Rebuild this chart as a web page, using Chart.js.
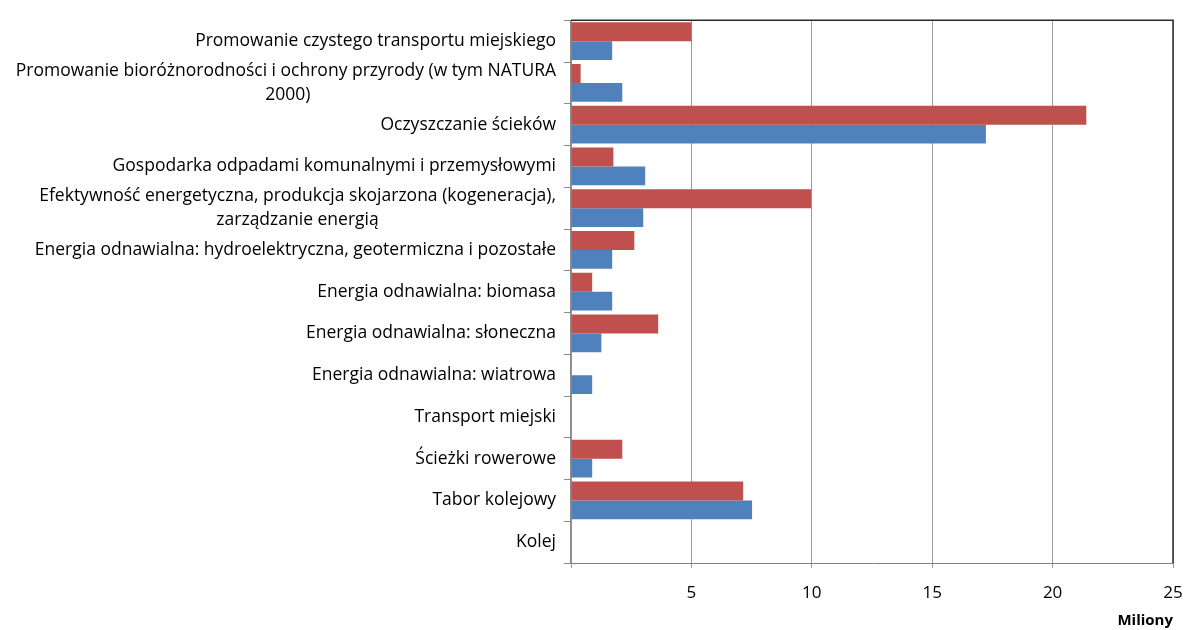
<!DOCTYPE html>
<html lang="pl">
<head>
<meta charset="utf-8">
<title>Wykres</title>
<script src="https://cdn.jsdelivr.net/npm/chart.js@4/dist/chart.umd.min.js"></script>
<style>
  html, body { margin: 0; padding: 0; background: #fff; }
  #wykres { display: block; }
</style>
</head>
<body>
<canvas id="wykres" width="1185" height="630"></canvas>
<script>
const kategorie = [
  "Promowanie czystego transportu miejskiego",
  ["Promowanie bioróżnorodności i ochrony przyrody (w tym NATURA", "2000)"],
  "Oczyszczanie ścieków",
  "Gospodarka odpadami komunalnymi i przemysłowymi",
  ["Efektywność energetyczna, produkcja skojarzona (kogeneracja),", "zarządzanie energią"],
  "Energia odnawialna: hydroelektryczna, geotermiczna i pozostałe",
  "Energia odnawialna: biomasa",
  "Energia odnawialna: słoneczna",
  "Energia odnawialna: wiatrowa",
  "Transport miejski",
  "Ścieżki rowerowe",
  "Tabor kolejowy",
  "Kolej"
];

const seriaCzerwona = [5.0, 0.4, 21.4, 1.76, 9.97, 2.63, 0.88, 3.62, 0, 0, 2.13, 7.15, 0];
const seriaNiebieska = [1.71, 2.13, 17.23, 3.08, 3.0, 1.71, 1.71, 1.26, 0.88, 0, 0.88, 7.52, 0];

const osXmin = 0;
const osXmax = 25;
const osXkrok = 5;
const tytulOsiX = "Miliony";

const czcionka = "'Open Sans', sans-serif";
const rozmiarEtykiet = 17.5;

// etykiety wieloliniowe: dopelnienie spacjami, zeby krotsza linia byla wysrodkowana
const miarka = document.createElement("canvas").getContext("2d");
miarka.font = rozmiarEtykiet + "px " + czcionka;

function wysrodkuj(etykieta) {
  if (!Array.isArray(etykieta)) return etykieta;
  const szer = etykieta.map(l => miarka.measureText(l).width);
  const max = Math.max(...szer);
  const spacja = miarka.measureText(" ").width;
  return etykieta.map((l, i) => l + " ".repeat(Math.round((max - szer[i]) / 2 / spacja)));
}

const ramka = {
  id: "ramka",
  afterDraw(chart) {
    const { ctx, chartArea: a } = chart;
    ctx.save();
    ctx.strokeStyle = "#2b2b2b";
    ctx.lineWidth = 1.5;
    ctx.beginPath();
    ctx.moveTo(a.left, a.top);
    ctx.lineTo(a.right, a.top);
    ctx.lineTo(a.right, a.bottom);
    ctx.stroke();
    ctx.restore();
  }
};

new Chart(document.getElementById("wykres"), {
  type: "bar",
  data: {
    labels: kategorie,
    datasets: [
      { label: "Seria 2", data: seriaCzerwona, backgroundColor: "#C0504D" },
      { label: "Seria 1", data: seriaNiebieska, backgroundColor: "#4F81BD" }
    ]
  },
  options: {
    indexAxis: "y",
    responsive: false,
    animation: false,
    categoryPercentage: 0.9,
    barPercentage: 1.0,
    layout: { padding: { left: 0, right: 0, top: 16, bottom: 0 } },
    plugins: {
      legend: { display: false },
      tooltip: { enabled: false }
    },
    scales: {
      x: {
        min: osXmin,
        max: osXmax,
        afterFit(scale) {
          scale.height = 67;
          scale.paddingLeft = 0;
          scale.paddingRight = 12;
        },
        ticks: {
          stepSize: osXkrok,
          padding: 15,
          color: "#000",
          font: { family: czcionka, size: 17 },
          callback: v => (v === 0 ? "" : v)
        },
        grid: { color: "#9a9a9a", tickLength: 5, tickColor: "#9a9a9a" },
        border: { color: "#808080" },
        title: {
          display: true,
          text: tytulOsiX,
          align: "end",
          color: "#000",
          font: { family: czcionka, size: 15, weight: "bold" },
          padding: { top: 0, bottom: 0 }
        }
      },
      y: {
        afterFit(scale) { scale.width = 571; },
        ticks: {
          autoSkip: false,
          padding: 8,
          color: "#000",
          font: { family: czcionka, size: rozmiarEtykiet, lineHeight: 1.4 },
          callback(value) { return wysrodkuj(this.getLabelForValue(value)); }
        },
        grid: { drawOnChartArea: false, tickLength: 7, color: "#8a8a8a" },
        border: { color: "#8a8a8a", width: 1.5 }
      }
    }
  },
  plugins: [ramka]
});
</script>
</body>
</html>
